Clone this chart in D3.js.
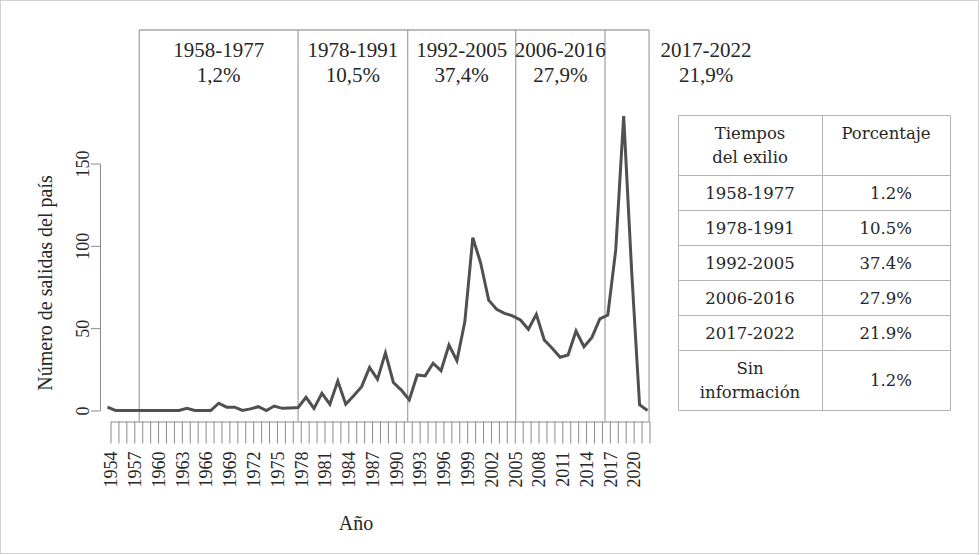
<!DOCTYPE html>
<html>
<head>
<meta charset="utf-8">
<title>Salidas del país por año</title>
<style>
  body { margin: 0; background: #fff; }
  svg { display: block; }
  text { font-family: "Liberation Serif", "Times New Roman", serif; fill: #262626; }
  .tbl text { font-family: "DejaVu Serif", serif; }
</style>
<script src="https://cdn.jsdelivr.net/npm/d3@7"></script>
</head>
<body>
<script>
// years shown on the axis
var years = d3.range(1954, 2023);

// number of exits per year
var salidas = [
  2, 0, 0, 0, 0, 0, 0, 0, 0, 0,
  1.3, 0, 0, 0, 4.4, 2, 2, 0, 1, 2.3,
  0, 2.7, 1.3, 1.5, 1.8, 8, 1.3, 10.4, 3.8, 17.9,
  3.8, 9, 14.5, 26.2, 19, 35, 17, 12.4, 6.4, 21.6,
  21, 28.7, 24.2, 39.8, 30.2, 54, 105, 89.4, 67, 61.5,
  59, 57.5, 55, 49.3, 58.4, 42.8, 37.8, 32.3, 33.7, 48.3,
  38.7, 44.4, 55.6, 58, 97.5, 178.8, 85, 3.5, 0
];

// period dividers (in years, as drawn) and their labels
var periodEdges = [1958, 1978, 1991.8, 2005.4, 2016.65, 2022.2];
var periodNames = ["1958-1977", "1978-1991", "1992-2005", "2006-2016", "2017-2022"];
var periodShares = ["1,2%", "10,5%", "37,4%", "27,9%", "21,9%"];

// table
var tableHead = [["Tiempos", "del exilio"], ["Porcentaje"]];
var tablePeriods = [["1958-1977"], ["1978-1991"], ["1992-2005"], ["2006-2016"], ["2017-2022"], ["Sin", "información"]];
var tableShares = ["1.2%", "10.5%", "37.4%", "27.9%", "21.9%", "1.2%"];

var yTicks = [0, 50, 100, 150];

var width = 980, height = 555;

var svg = d3.select("body").append("svg")
  .attr("width", width)
  .attr("height", height);

// outer frame
svg.append("rect")
  .attr("x", 0.5).attr("y", 0.5)
  .attr("width", width - 2).attr("height", height - 2)
  .attr("fill", "none")
  .attr("stroke", "#d0d0d0");

// scales
var x = d3.scaleLinear().domain([1954, 2022]).range([107.5, 647.5]);
var xTick = d3.scaleLinear().domain([1954, 2022]).range([110.5, 649.5]);
var y = d3.scaleLinear().domain([0, 150]).range([410.5, 163.5]);

var axisY = 421.5, topY = 30;

// period boxes
svg.append("line")
  .attr("x1", x(periodEdges[0])).attr("x2", x(periodEdges[periodEdges.length - 1]))
  .attr("y1", topY).attr("y2", topY)
  .attr("stroke", "#a6a6a6").attr("stroke-width", 1.3);

svg.selectAll(".divider")
  .data(periodEdges)
  .enter().append("line")
  .attr("class", "divider")
  .attr("x1", function(d) { return x(d); })
  .attr("x2", function(d) { return x(d); })
  .attr("y1", topY).attr("y2", axisY)
  .attr("stroke", "#a6a6a6").attr("stroke-width", 1.3);

var labelX = periodNames.map(function(d, i) {
  if (i == periodNames.length - 1) return 706;
  return (x(periodEdges[i]) + x(periodEdges[i + 1])) / 2;
});

svg.selectAll(".pname")
  .data(periodNames)
  .enter().append("text")
  .attr("class", "pname")
  .attr("x", function(d, i) { return labelX[i]; })
  .attr("y", 57)
  .attr("text-anchor", "middle")
  .style("font-size", "21px")
  .text(function(d) { return d; });

svg.selectAll(".pshare")
  .data(periodShares)
  .enter().append("text")
  .attr("class", "pshare")
  .attr("x", function(d, i) { return labelX[i]; })
  .attr("y", 82)
  .attr("text-anchor", "middle")
  .style("font-size", "21px")
  .text(function(d) { return d; });

// y axis
var gy = svg.append("g")
  .attr("transform", "translate(100,0)")
  .call(d3.axisLeft(y).tickValues(yTicks).tickSize(9).tickSizeOuter(0));
gy.select(".domain").attr("stroke", "#8c8c8c");
gy.selectAll(".tick line").attr("stroke", "#8c8c8c");
gy.selectAll(".tick text")
  .attr("x", null).attr("dy", null)
  .attr("text-anchor", "middle")
  .attr("transform", "translate(-17,0) rotate(-90)")
  .attr("dy", "0.35em")
  .style("font-size", "18px")
  .style("font-family", "Liberation Serif")
  .attr("fill", "#262626");

// x axis
var gx = svg.append("g")
  .attr("transform", "translate(0," + axisY + ")")
  .call(d3.axisBottom(xTick).tickValues(years).tickSize(22).tickSizeOuter(0)
    .tickFormat(function(d) { return (d - 1954) % 3 == 0 ? d : ""; }));
gx.select(".domain").attr("stroke", "#8c8c8c");
gx.selectAll(".tick line").attr("stroke", "#8c8c8c");
gx.selectAll(".tick text")
  .attr("y", 0).attr("dy", "0.35em")
  .attr("text-anchor", "end")
  .attr("transform", "translate(0,30) rotate(-90)")
  .style("font-size", "18px")
  .style("font-family", "Liberation Serif")
  .attr("fill", "#262626");

// axis titles
svg.append("text")
  .attr("transform", "translate(45,283) rotate(-90)")
  .attr("text-anchor", "middle")
  .attr("dy", "0.35em")
  .style("font-size", "20px")
  .text("Número de salidas del país");

svg.append("text")
  .attr("x", 356).attr("y", 530)
  .attr("text-anchor", "middle")
  .style("font-size", "20px")
  .text("Año");

// the line
var line = d3.line()
  .x(function(d, i) { return x(years[i]); })
  .y(function(d) { return y(d); });

svg.append("path")
  .datum(salidas)
  .attr("d", line)
  .attr("fill", "none")
  .attr("stroke", "#505050")
  .attr("stroke-width", 3)
  .attr("stroke-linejoin", "miter");

// table on the right
var tbl = svg.append("g").attr("class", "tbl");
var colX = [678.5, 822.5, 950.5];
var rowY = [115.5, 175.5, 210.5, 245.5, 280.5, 315.5, 350.5, 410.5];

tbl.selectAll(".hl")
  .data(rowY)
  .enter().append("line")
  .attr("x1", colX[0]).attr("x2", colX[2])
  .attr("y1", function(d) { return d; }).attr("y2", function(d) { return d; })
  .attr("stroke", "#b4b4b4");

tbl.selectAll(".vl")
  .data(colX)
  .enter().append("line")
  .attr("x1", function(d) { return d; }).attr("x2", function(d) { return d; })
  .attr("y1", rowY[0]).attr("y2", rowY[rowY.length - 1])
  .attr("stroke", "#b4b4b4");

function cellText(lines, cx, top, bottom, anchor) {
  var lh = 24;
  var mid = (top + bottom) / 2;
  var t = tbl.append("text")
    .attr("text-anchor", anchor)
    .style("font-size", "16.5px");
  lines.forEach(function(s, k) {
    t.append("tspan")
      .attr("x", cx)
      .attr("y", mid + (k - (lines.length - 1) / 2) * lh)
      .attr("dy", "0.35em")
      .text(s);
  });
}

cellText(tableHead[0], 750, rowY[0], rowY[1], "middle");
cellText(tableHead[1], 886, rowY[0], rowY[0] + 36, "middle");

tablePeriods.forEach(function(p, i) {
  cellText(p, 750, rowY[i + 1], rowY[i + 2], "middle");
  cellText([tableShares[i]], 912, rowY[i + 1], rowY[i + 2], "end");
});
</script>
</body>
</html>
